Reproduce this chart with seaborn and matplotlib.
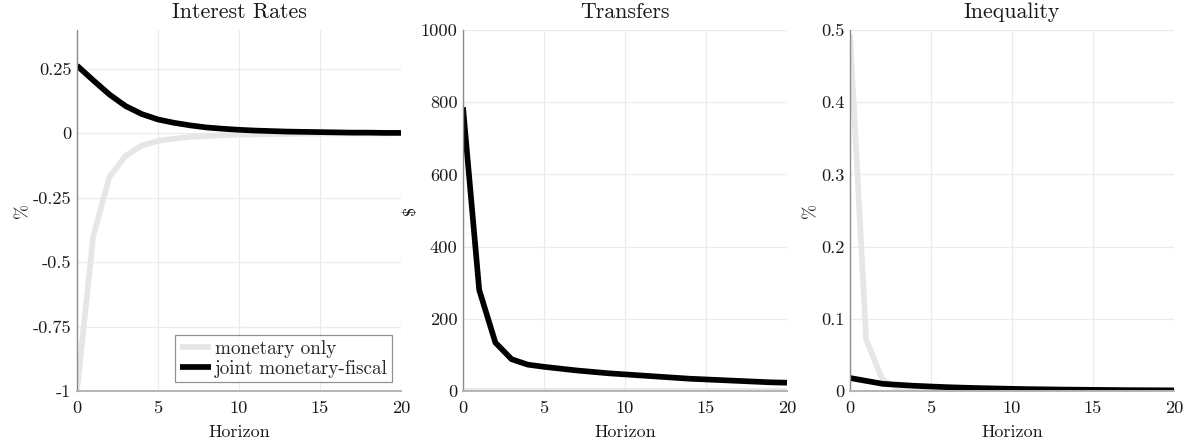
import numpy as np
import pandas as pd
import matplotlib
matplotlib.use("Agg")
import matplotlib.pyplot as plt
import seaborn as sns
from matplotlib.ticker import FuncFormatter

# ---- data ----
horizon = list(range(21))
series_names = ["monetary only", "joint monetary-fiscal"]

rates_monetary = [-1.0, -0.40, -0.17, -0.088, -0.048, -0.030, -0.021, -0.015, -0.011,
                  -0.008, -0.006, -0.005, -0.004, -0.003, -0.002, -0.002, -0.001,
                  -0.001, -0.001, -0.001, 0.0]
rates_joint = [0.262, 0.205, 0.150, 0.105, 0.074, 0.053, 0.040, 0.030, 0.022, 0.017,
               0.013, 0.010, 0.008, 0.006, 0.005, 0.004, 0.003, 0.002, 0.002, 0.001, 0.001]

transfers_monetary = [0.0] * 21
transfers_joint = [786, 280, 134, 88, 73, 67, 62, 57, 53, 49, 46, 43, 40, 37, 34,
                   32, 30, 28, 26, 24, 23]

ineq_monetary = [0.494, 0.071, 0.016, 0.002, 0.0005, 0.0002, 0.0001, 0.0, 0.0, 0.0,
                 0.0, 0.0, 0.0, 0.0, 0.0, 0.0, 0.0, 0.0, 0.0, 0.0, 0.0]
ineq_joint = [0.018, 0.014, 0.010, 0.0085, 0.0072, 0.0062, 0.0053, 0.0046, 0.0040,
              0.0035, 0.0030, 0.0026, 0.0023, 0.0020, 0.0018, 0.0016, 0.0014, 0.0012,
              0.0011, 0.0010, 0.0009]

titles = ["Interest Rates", "Transfers", "Inequality"]
ylabels = ["%", r"\$", "%"]
ylims = [(-1, 0.4), (0, 1000), (0, 0.5)]
yticks = [[-1, -0.75, -0.5, -0.25, 0, 0.25], [0, 200, 400, 600, 800, 1000],
          [0, 0.1, 0.2, 0.3, 0.4, 0.5]]
xticks = [0, 5, 10, 15, 20]

panels = [(rates_monetary, rates_joint), (transfers_monetary, transfers_joint),
          (ineq_monetary, ineq_joint)]

# ---- style ----
sns.set_style("white")
plt.rcParams["font.family"] = ["cmr10", "DejaVu Serif"]
plt.rcParams["mathtext.fontset"] = "cm"
plt.rcParams["axes.unicode_minus"] = False
plt.rcParams["axes.formatter.use_mathtext"] = False

colors = {"monetary only": "#e6e6e6", "joint monetary-fiscal": "#000000"}

fig = plt.figure(figsize=(11.89, 4.44), dpi=100)
lefts = [77 / 1189, 463 / 1189, 850 / 1189]
width = 324 / 1189
bottom = 1 - 391 / 444
height = 361 / 444

for i, (mon, joint) in enumerate(panels):
    ax = fig.add_axes([lefts[i], bottom, width, height])
    df = pd.DataFrame({
        "Horizon": horizon * 2,
        "value": list(mon) + list(joint),
        "series": [series_names[0]] * 21 + [series_names[1]] * 21,
    })
    sns.lineplot(data=df, x="Horizon", y="value", hue="series",
                 hue_order=series_names, palette=colors, linewidth=4.1,
                 ax=ax, legend=(i == 0), solid_capstyle="butt")
    ax.set_xlim(0, 20)
    ax.set_ylim(*ylims[i])
    ax.set_xticks(xticks)
    ax.set_yticks(yticks[i])
    ax.yaxis.set_major_formatter(FuncFormatter(lambda v, p: ("%g" % v)))
    ax.xaxis.set_major_formatter(FuncFormatter(lambda v, p: ("%g" % v)))
    ax.grid(True, color="#ebebeb", linewidth=0.9)
    ax.set_axisbelow(True)
    for s in ["top", "right"]:
        ax.spines[s].set_visible(False)
    ax.spines["left"].set_color("#8c8c8c")
    ax.spines["bottom"].set_color("#b4b4b4")
    ax.spines["left"].set_linewidth(1.0)
    ax.spines["bottom"].set_linewidth(1.4)
    ax.tick_params(direction="in", length=4, width=0.8, color="#8c8c8c",
                   labelsize=13.2, labelcolor="#1a1a1a")
    ax.tick_params(axis="x", pad=7)
    ax.tick_params(axis="y", pad=4)
    ax.set_title(titles[i], fontsize=15.8, pad=9, color="#1a1a1a")
    ax.set_xlabel("Horizon", fontsize=13, labelpad=6, color="#1a1a1a")
    ax.set_ylabel(ylabels[i], fontsize=13, labelpad=2, color="#1a1a1a")
    if i == 0:
        leg = ax.legend(loc="lower right", fontsize=13.8, frameon=True,
                        fancybox=False, handlelength=1.6, handletextpad=0.2,
                        borderpad=0.25, labelspacing=0.1, borderaxespad=0.45)
        leg.get_frame().set_edgecolor("#777777")
        leg.get_frame().set_linewidth(0.9)
        leg.set_title(None)

fig.savefig("out.png", dpi=100)
